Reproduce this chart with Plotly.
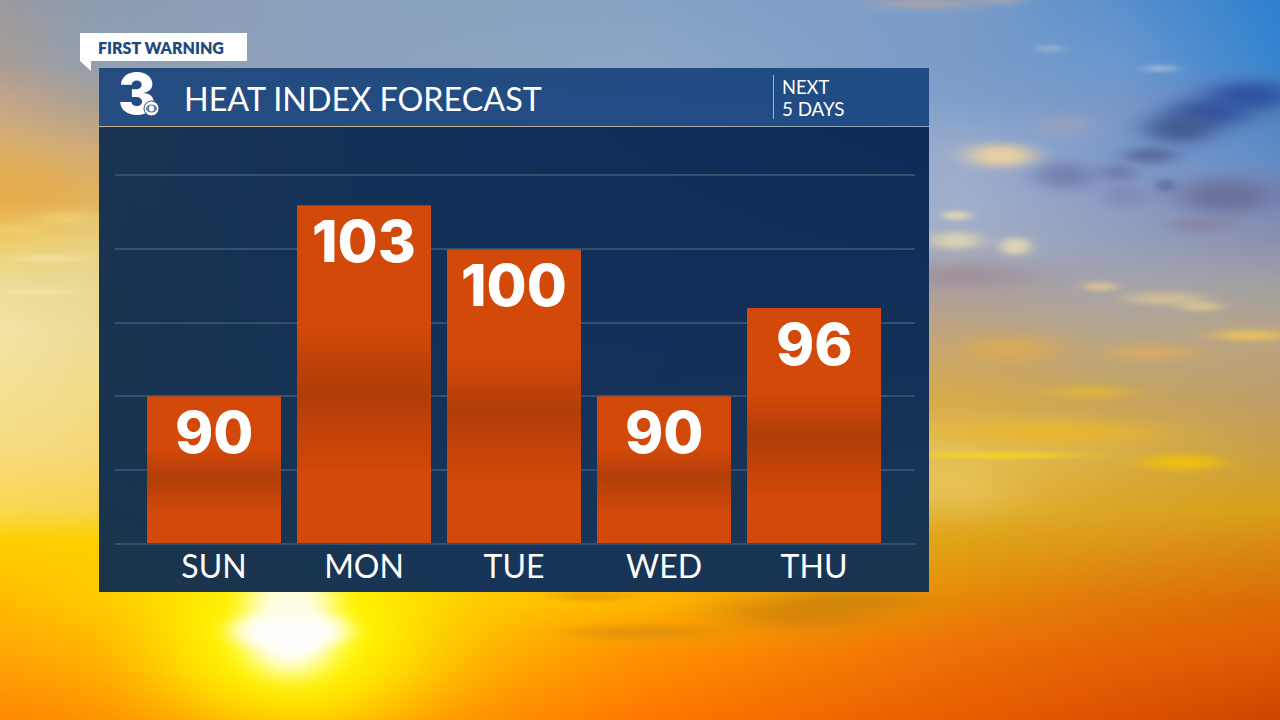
import base64, struct, zlib
import numpy as np
import plotly.graph_objects as go

# ---- chart data ----
days = ["SUN", "MON", "TUE", "WED", "THU"]
heat_index = [90, 103, 100, 90, 96]
grid_values = [80, 85, 90, 95, 100, 105]

W, H = 1280, 720
PL, PR, PT, PB = 115, 915, 176, 543   # plot box in page pixels
X_RANGE = [-0.5 - 24 / 150, 4.5 + 26 / 150]


def px(x):
    return x / W


def py(y):
    return 1 - y / H


def png_uri(arr):
    arr = np.clip(arr, 0, 255).astype(np.uint8)
    h, w, c = arr.shape
    raw = b"".join(b"\x00" + arr[i].tobytes() for i in range(h))

    def chunk(t, d):
        return struct.pack(">I", len(d)) + t + d + struct.pack(">I", zlib.crc32(t + d) & 0xffffffff)
    ct = 6 if c == 4 else 2
    data = (b"\x89PNG\r\n\x1a\n" + chunk(b"IHDR", struct.pack(">IIBBBBB", w, h, 8, ct, 0, 0, 0))
            + chunk(b"IDAT", zlib.compress(raw, 9)) + chunk(b"IEND", b""))
    return "data:image/png;base64," + base64.b64encode(data).decode()


def rgb(s):
    return [int(s[i:i + 2], 16) for i in (1, 3, 5)]


def grid_image(xs, ys, rows, w, h):
    g = np.array([[rgb(c) for c in r] for r in rows], float)
    X, Y = np.arange(w), np.arange(h)
    tmp = np.stack([[np.interp(X, xs, g[j, :, k]) for k in range(3)] for j in range(len(ys))])
    return np.stack([[np.interp(Y, ys, tmp[:, k, i]) for i in range(w)] for k in range(3)], axis=-1).transpose(1, 0, 2)


# ---- backdrop (sunset sky) ----
sky_x = [0, 100, 320, 640, 960, 1120, 1280]
sky_y = [0, 60, 100, 150, 200, 240, 280, 330, 400, 450, 510, 540, 600, 650, 720]
sky = [
    ["#9a9aa0", "#8c9cb0", "#8ba2bc", "#86a2c4", "#7a9cc8", "#5a90cc", "#2d80d0"],
    ["#a89c94", "#90a0b4", "#8ba2bc", "#8ca6c6", "#7a9cc8", "#6a98d0", "#3584d0"],
    ["#c4a68a", "#a8a098", "#a0a0a0", "#8ca6c6", "#7fa0cc", "#7898c8", "#5080c0"],
    ["#dcb068", "#d0ac78", "#a0a0a0", "#90a6c4", "#9aaccc", "#7d9acc", "#5c8cc8"],
    ["#e8b450", "#e0b868", "#a8a4a0", "#98a6c0", "#a0b0cc", "#8c9cc4", "#7a88b4"],
    ["#f0cc68", "#e8d080", "#b0a8a0", "#a0a4b4", "#a4aec4", "#94a0bc", "#8c90b0"],
    ["#ecdc98", "#e8d890", "#b8aca0", "#a8a0a4", "#a89ea4", "#a4a4ae", "#a0a0a4"],
    ["#f2e4a6", "#ecdc98", "#c8b490", "#c0a880", "#c0a480", "#b4a68e", "#b8a488"],
    ["#f5e090", "#f2dc88", "#dcc070", "#d8b058", "#d8aa48", "#c8a45c", "#c09f68"],
    ["#f8dc80", "#f6d878", "#ecc860", "#e8c058", "#e4c058", "#d8ae48", "#c8a048"],
    ["#fbd850", "#f8d450", "#f0c030", "#e8b430", "#e0b030", "#dca624", "#d8a018"],
    ["#ffd000", "#ffd000", "#f8c410", "#f0b018", "#e0a418", "#dc9818", "#d88c14"],
    ["#ffbc00", "#ffc800", "#ffdc00", "#ffb800", "#e88808", "#e07808", "#dc6c08"],
    ["#ffa808", "#ffb000", "#ffd000", "#ff9400", "#ee7008", "#e66406", "#e05c02"],
    ["#ff8800", "#ff9000", "#ffa800", "#ff7800", "#e85c00", "#dc5000", "#cc4400"],
]
bg = grid_image(sky_x, sky_y, sky, W, H)
YY, XX = np.mgrid[0:H, 0:W]

# soft cloud and sun blobs: centre x, centre y, radius x, radius y, colour, strength, edge sharpness
blobs = [
    (25, 190, 70, 30, "#e6a640", .45, 1.3), (65, 218, 32, 7, "#f6d878", .55, 1.2), (18, 228, 28, 5, "#f6d070", .55, 1.2),
    (48, 258, 38, 4, "#f6eab4", .5, 1.2), (40, 291, 42, 4, "#f8eab4", .45, 1.2),
    (1250, 95, 45, 15, "#2c52a0", .95, 1.3), (1210, 112, 42, 15, "#324f9c", .9, 1.3), (1180, 128, 38, 16, "#40598f", .9, 1.3),
    (1150, 155, 28, 9, "#56689a", .85, 1.2), (1118, 172, 20, 9, "#6a76a4", .7, 1.2), (1165, 185, 11, 7, "#5a669c", .65, 1.3),
    (1225, 195, 48, 18, "#6a6c98", .85, 1.4), (1200, 225, 30, 8, "#857a9a", .55, 1.2), (1065, 175, 32, 14, "#6c7aa6", .75, 1.3),
    (1125, 195, 24, 12, "#7880a4", .5, 1.2), (1000, 155, 36, 12, "#f0d4a0", .9, 1.4), (1065, 125, 30, 12, "#b8a8b0", .35, 1.2),
    (1160, 68, 18, 4, "#d8d8d8", .4, 1.3), (1050, 48, 15, 4, "#c8ccd4", .35, 1.2), (956, 215, 15, 5, "#ece0b4", .7, 1.3),
    (955, 240, 28, 9, "#e4d8b0", .8, 1.4), (1015, 246, 17, 9, "#e8dcb4", .85, 1.4), (965, 275, 65, 12, "#95808a", .4, 1.2),
    (1100, 286, 18, 5, "#e6ca90", .7, 1.3), (1165, 298, 40, 7, "#e0c894", .7, 1.3), (1200, 306, 22, 5, "#e8d08c", .65, 1.3),
    (1250, 335, 38, 6, "#eec458", .8, 1.3), (1010, 348, 50, 14, "#e4ac4c", .65, 1.3), (1150, 352, 45, 9, "#e4ae5c", .65, 1.3),
    (1090, 392, 42, 7, "#e8ba38", .65, 1.2), (1050, 432, 110, 13, "#ecb82c", .75, 1.4), (1000, 455, 80, 3.5, "#fad818", .75, 1.3),
    (1182, 462, 42, 8, "#f2c20c", .85, 1.5), (950, 490, 70, 26, "#eed070", .4, 1.2),
    (800, 612, 85, 18, "#c07810", .55, 1.3), (860, 600, 70, 9, "#bc7c10", .45, 1.2), (640, 632, 75, 8, "#d08a10", .55, 1.4),
    (590, 596, 40, 5, "#dc9008", .55, 1.2), (925, 3, 55, 6, "#c8a898", .5, 1.2), (1000, 0, 25, 5, "#c8b0a0", .4, 1.2),
    (290, 640, 135, 90, "#ffff00", .95, 1.2), (290, 630, 60, 20, "#ffffff", 1.0, 2.2), (290, 640, 47, 36, "#ffffff", 1.0, 1.5),
    (290, 600, 45, 30, "#fffff0", .95, 1.5),
]
for bx, by, rx, ry, col, a, p in blobs:
    m = a * np.exp(-(((XX - bx) / rx) ** 2 + ((YY - by) / ry) ** 2) ** p)[..., None]
    bg = bg * (1 - m) + np.array(rgb(col), float) * m

# ---- navy panel drawn into the backdrop ----
PX0, PX1, PY0, PY1, HEAD = 99, 929, 68, 592, 126
panel_x = [99, 500, 929]
panel_y = [127, 300, 480, 592]
panel_rows = [
    ["#1a3454", "#112f59", "#0e2b57"],
    ["#193350", "#12305a", "#112f58"],
    ["#18344f", "#16345a", "#183556"],
    ["#1b3548", "#18365a", "#1a3650"],
]
pn = grid_image([p - PX0 for p in panel_x], [p - 127 for p in panel_y], panel_rows, PX1 - PX0, PY1 - 127)
bg[127:PY1, PX0:PX1] = pn
head = grid_image([0, 830], [0, 58], [["#244c80", "#214b84"], ["#254e82", "#224c86"]], PX1 - PX0, HEAD - PY0)
bg[PY0:HEAD, PX0:PX1] = head
bg[126:127, PX0:PX1] = grid_image([0, 415, 830], [0], [["#c8b48c", "#b8b098", "#8ca2c2"]], PX1 - PX0, 1)

# ---- darker band across each bar ----
n = 200
t = np.linspace(0, 1, n)
alpha = np.where(t < .55, np.clip((t - .36) / .19, 0, 1), np.clip((.80 - t) / .25, 0, 1)) * .16 * 255
band = np.zeros((n, 4, 4))
band[..., 3] = alpha[:, None]
band_uri = png_uri(band)

BAR_W = 134 / 150
x = list(range(len(days)))

fig = go.Figure(go.Bar(x=x, y=heat_index, width=BAR_W, marker=dict(color="#d2490a", line_width=0),
                       hoverinfo="skip"))

# station numeral: a text trace on a full-page overlay subplot, so the lens shapes can lie on top of it
fig.add_trace(go.Scatter(
    x=[137], y=[100], xaxis="x2", yaxis="y2", mode="text", text=["3"],
    textposition="middle center", cliponaxis=False, hoverinfo="skip",
    textfont=dict(family="Inter", size=56, color="white", weight=900)))

images = [dict(source=png_uri(bg), xref="paper", yref="paper", x=0, y=1, sizex=1, sizey=1,
               xanchor="left", yanchor="top", sizing="stretch", layer="below")]
for i, v in zip(x, heat_index):
    images.append(dict(source=band_uri, xref="x", yref="y", x=i - BAR_W / 2, y=v, sizex=BAR_W,
                       sizey=v - grid_values[0], xanchor="left", yanchor="top", sizing="stretch", layer="above"))

annotations = [dict(x=i, y=v, xref="x", yref="y", yshift=-36, text=str(v), showarrow=False, yanchor="middle",
                    font=dict(family="Inter", size=58, color="white", weight=800))
               for i, v in zip(x, heat_index)]


def label(xp, yp, text, size, color="white", weight=400, family="Lato"):
    return dict(x=px(xp), y=py(yp), xref="paper", yref="paper", text=text, showarrow=False, xanchor="left",
                yanchor="middle", align="left", font=dict(family=family, size=size, color=color, weight=weight))


annotations += [
    label(96, 47.5, "FIRST WARNING", 16, "#1f4a80", 800),
    label(182, 99, "HEAT INDEX FORECAST", 32.3),
    label(780, 87, "NEXT", 18.3),
    label(780, 108, "5 DAYS", 18.8),
]

PAPER = dict(xref="paper", yref="paper", layer="above")
shapes = [
    dict(type="path", path=f"M {px(80)} {py(33)} L {px(247)} {py(33)} L {px(247)} {py(61)} L {px(91)} {py(61)} "
         f"L {px(91)} {py(71)} L {px(80)} {py(61)} Z", fillcolor="white", line=dict(width=0), **PAPER),
    dict(type="line", x0=px(773.5), x1=px(773.5), y0=py(75), y1=py(119), line=dict(color="#9fb2cc", width=1), **PAPER),
    dict(type="circle", x0=px(144), x1=px(159), y0=py(101), y1=py(116), fillcolor="white",
         line=dict(color="#244c80", width=1), **PAPER),
    dict(type="circle", x0=px(146), x1=px(157), y0=py(104.5), y1=py(112.5), fillcolor="#5f7fa8",
         line=dict(width=0), **PAPER),
    dict(type="circle", x0=px(149), x1=px(154), y0=py(105.5), y1=py(111.5), fillcolor="white",
         line=dict(width=0), **PAPER),
]

GRID = "#33506f"
fig.update_layout(
    width=W, height=H, autosize=False, showlegend=False,
    margin=dict(l=0, r=0, t=0, b=0, pad=0),
    paper_bgcolor="rgba(0,0,0,0)", plot_bgcolor="rgba(0,0,0,0)",
    images=images, annotations=annotations, shapes=shapes,
    xaxis=dict(domain=[PL / W, PR / W], range=X_RANGE, tickmode="array", tickvals=x, ticktext=days,
               showgrid=False, zeroline=False, showline=True, mirror=True, linecolor=GRID, linewidth=2,
               ticks="", ticklabelstandoff=-5, tickfont=dict(family="Lato", size=32, color="white")),
    yaxis=dict(domain=[1 - PB / H, 1 - PT / H], range=[grid_values[0], grid_values[-1]], tickmode="array",
               tickvals=grid_values, showticklabels=False,
               showgrid=True, gridcolor=GRID, gridwidth=2, zeroline=False, showline=False, ticks=""),
    xaxis2=dict(domain=[0, 1], range=[0, W], anchor="y2", visible=False),
    yaxis2=dict(domain=[0, 1], range=[H, 0], anchor="x2", visible=False),
)
fig.write_html("out.html", config=dict(displayModeBar=False),
               post_script="document.body.style.margin='0';document.documentElement.style.overflow='hidden';")
